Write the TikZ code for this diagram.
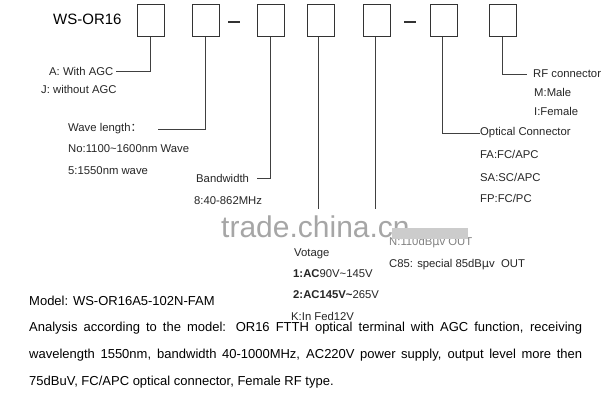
\documentclass[tikz,border=0pt]{standalone}
\usepackage{fontspec}
\setmainfont{Liberation Sans}
\newfontfamily\djv{DejaVu Sans}
\newfontfamily\cjk{Noto Sans CJK SC}
\begin{document}
\begin{tikzpicture}[x=1pt,y=-1pt,
  bx/.style={draw=black!80,line width=0.8pt,minimum width=27pt,minimum height=32pt,inner sep=0pt,anchor=north west},
  ln/.style={draw=black!75,line width=0.9pt},
  lb/.style={anchor=west,inner sep=0pt,font=\fontsize{11.3}{12}\selectfont,text=black!85},
  hyph/.style={fill=black!80,minimum width=12pt,minimum height=2.5pt,inner sep=0pt}]
\useasboundingbox (0,0) rectangle (615,401);
\fill[white] (0,0) rectangle (615,401);
\node[anchor=west,inner sep=0pt,font=\fontsize{15}{16}\selectfont] (t) at (53,19) {WS-OR16};
\node[bx] (b1) at (137,4) {};
\node[bx] (b2) at (192,4) {};
\node[hyph] (d1) at (234,22) {};
\node[bx] (b3) at (257,4) {};
\node[bx] (b4) at (307,4) {};
\node[bx] (b5) at (363,4) {};
\node[hyph] (d2) at (410,22) {};
\node[bx] (b6) at (430,4) {};
\node[bx] (b7) at (489,4) {};
% watermark
\node[anchor=west,inner sep=0pt,font=\fontsize{30}{30}\selectfont,text=black!35] (wm) at (221,227) {trade.china.cn};
% labels
\node[lb,text=black!50] (n1) at (389,243) {N:110dB{\djv μ}v OUT};
\fill[black!20] (392,228) rectangle (468,239);
\node[lb] (a1) at (49,71) {A: With AGC};
\node[lb] (a2) at (41,89) {J: without AGC};
\node[lb] (w1) at (68,129) {Wave length{\cjk ：}};
\node[lb] (w2) at (68,149) {No:1100\textasciitilde1600nm Wave};
\node[lb] (w3) at (68,171) {5:1550nm wave};
\node[lb] (bw1) at (196,178) {Bandwidth};
\node[lb] (bw2) at (194,201) {8:40-862MHz};
\node[lb] (v0) at (294,254) {Votage};
\node[lb] (v1) at (293,274) {\textbf{1:AC}90V\textasciitilde145V};
\node[lb] (v2) at (293,295) {\textbf{2:AC145V\textasciitilde}265V};
\node[lb] (v3) at (291,316) {K:In Fed12V};
\node[lb] (n2) at (389,265) {C85: special 85dB{\djv μ}v\ \ OUT};
\node[lb] (o1) at (480,133) {Optical\ Connector};
\node[lb] (o2) at (480,154) {FA:FC/APC};
\node[lb] (o3) at (480,177) {SA:SC/APC};
\node[lb] (o4) at (480,198) {FP:FC/PC};
\node[lb] (r1) at (533,74) {RF connector};
\node[lb] (r2) at (534,92) {M:Male};
\node[lb] (r3) at (534,111) {I:Female};
% connectors
\coordinate (e4) at (318,209);
\coordinate (e5) at (375,209);
\draw[ln] (b1.south-|150,0) |- ([xshift=3pt]a1.east);
\draw[ln] (b2.south-|205,0) |- (158,129);
\draw[ln] (b3.south-|270,0) |- (257,178);
\draw[ln] (b4.south-|e4) -- (e4);
\draw[ln] (b5.south-|e5) -- (e5);
\draw[ln] (b6.south-|442,0) |- (o1.west);
\draw[ln] (b7.south-|502,0) |- (527,74);
% bottom text
\node[anchor=west,inner sep=0pt,font=\fontsize{13}{14}\selectfont] (m) at (29,301) {Model: WS-OR16A5-102N-FAM};
\node[anchor=north west,inner sep=0pt,text width=553pt,align=justify,font=\fontsize{13}{26.7}\selectfont] (an) at (29,322)
{Analysis according to the model: OR16 FTTH optical terminal with AGC function, receiving\linebreak wavelength 1550nm, bandwidth 40-1000MHz, AC220V power supply, output level more then\linebreak 75dBuV, FC/APC optical connector, Female RF type.};
\end{tikzpicture}
\end{document}
